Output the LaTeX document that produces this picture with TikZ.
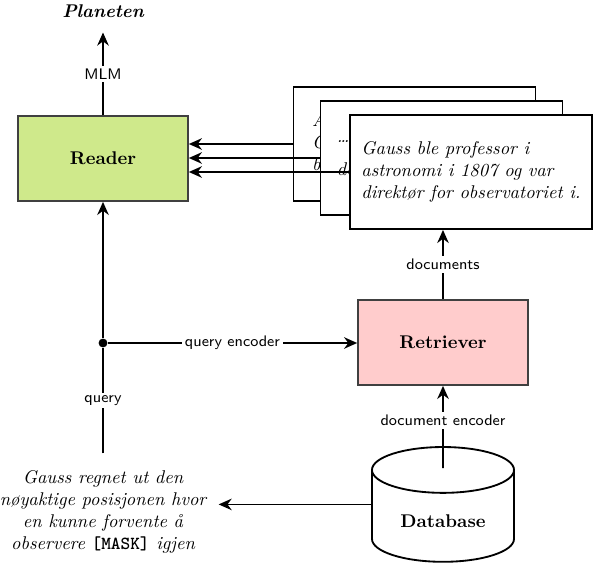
\documentclass[tikz,border=0pt]{standalone}
\usepackage{amsmath,amssymb}
\usepackage{fontspec}
\usepackage{xcolor}
\usepackage{tikz}
\usetikzlibrary{positioning,arrows.meta,shapes.geometric,calc}
\newfontfamily\masktt{lmmonolt10-bold.otf}
\definecolor{readergreen}{RGB}{207,233,139}
\tikzset{
  model/.style={draw=black!75, line width=1pt, minimum width=32.4mm, minimum height=16.2mm, font=\bfseries},
  doc/.style={draw, line width=1pt, fill=white, minimum width=46.2mm, minimum height=21.75mm, align=left, font=\itshape},
  store/.style={draw, line width=1pt, fill=white, cylinder, shape border rotate=90, aspect=0.47, minimum width=27.1mm, minimum height=21.9mm, font=\bfseries},
  lbl/.style={fill=white, font=\sffamily\fontsize{8.3}{10}\selectfont, inner sep=1.5pt},
  arr/.style={-{Stealth[length=2.5mm, width=2.2mm]}, line width=1pt},
}
\begin{document}
\begin{tikzpicture}[x=0.1908mm, y=-0.1908mm]
\useasboundingbox (0,0) rectangle (594,564);
\node[model, fill=readergreen] (reader) at (103,158.5) {Reader};
\node[font=\bfseries\itshape, inner ysep=2.8mm] (planeten) at (103,11) {Planeten};
\node[doc, text width=39.1mm] (doc1) at (414.5,144) {Allerede som barn\\ Gauss kjent for\\ beregninger.};
\node[doc, text width=39.9mm] (doc2) at (441.5,158) {\dots\\[2mm] dokumentert};
\node[doc] (doc3) at (471,172) {Gauss ble professor i\\ astronomi i 1807 og var\\ direktør for observatoriet i.};
\node[model, fill=red!20] (retriever) at (443,342.5) {Retriever};
\node[circle, fill, inner sep=0pt, minimum size=1.7mm] (split) at (103,343) {};
\node[align=center, font=\itshape, inner xsep=2.3mm, inner ysep=3.2mm] (query) at (103,512) {Gauss regnet ut den\\ nøyaktige posisjonen hvor\\ en kunne forvente å\\ observere {\masktt [MASK]} igjen};
\node[store] (db) at (443,521) {Database};
\coordinate (dbtop) at ([yshift=-4.2mm]db.north);
% connectors
\draw[arr] (reader.north) -- node[lbl]{MLM} (planeten.south);
\foreach \d in {doc1,doc2,doc3} \draw[arr] (\d.west) -- (\d.west -| reader.east);
\draw[arr] (retriever.north) -- node[lbl]{documents} (retriever.north |- doc3.south);
\draw[arr] (split) -- node[lbl]{query encoder} (split -| retriever.west);
\draw[line width=1pt] (query.north) -- node[lbl]{query} (split);
\draw[arr] (split) -- (reader.south);
\draw[arr] (db.shape center -| db.west) -- (db.shape center -| query.east);
\draw[arr] (dbtop) -- node[lbl, pos=0.58]{document encoder} (retriever.south);
\end{tikzpicture}
\end{document}
